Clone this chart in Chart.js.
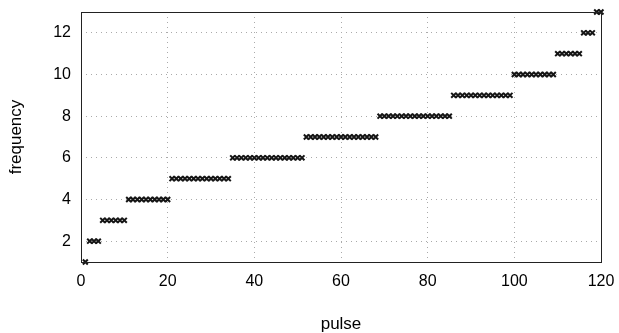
<!DOCTYPE html>
<html>
<head>
<meta charset="utf-8">
<script src="https://cdn.jsdelivr.net/npm/chart.js@4/dist/chart.umd.min.js"></script>
<style>
  html, body { margin: 0; padding: 0; background: #fff; }
  #wrap { width: 619px; height: 333px; }
</style>
</head>
<body>
<div id="wrap"><canvas id="pulseChart"></canvas></div>
<script>
const pulses = [
    1, 2, 3, 4, 5, 6, 7, 8, 9, 10,
    11, 12, 13, 14, 15, 16, 17, 18, 19, 20,
    21, 22, 23, 24, 25, 26, 27, 28, 29, 30,
    31, 32, 33, 34, 35, 36, 37, 38, 39, 40,
    41, 42, 43, 44, 45, 46, 47, 48, 49, 50,
    51, 52, 53, 54, 55, 56, 57, 58, 59, 60,
    61, 62, 63, 64, 65, 66, 67, 68, 69, 70,
    71, 72, 73, 74, 75, 76, 77, 78, 79, 80,
    81, 82, 83, 84, 85, 86, 87, 88, 89, 90,
    91, 92, 93, 94, 95, 96, 97, 98, 99, 100,
    101, 102, 103, 104, 105, 106, 107, 108, 109, 110,
    111, 112, 113, 114, 115, 116, 117, 118, 119, 120
];
const frequency = [
    1, 2, 2, 2, 3, 3, 3, 3, 3, 3,
    4, 4, 4, 4, 4, 4, 4, 4, 4, 4,
    5, 5, 5, 5, 5, 5, 5, 5, 5, 5,
    5, 5, 5, 5, 6, 6, 6, 6, 6, 6,
    6, 6, 6, 6, 6, 6, 6, 6, 6, 6,
    6, 7, 7, 7, 7, 7, 7, 7, 7, 7,
    7, 7, 7, 7, 7, 7, 7, 7, 8, 8,
    8, 8, 8, 8, 8, 8, 8, 8, 8, 8,
    8, 8, 8, 8, 8, 9, 9, 9, 9, 9,
    9, 9, 9, 9, 9, 9, 9, 9, 9, 10,
    10, 10, 10, 10, 10, 10, 10, 10, 10, 11,
    11, 11, 11, 11, 11, 12, 12, 12, 13, 13
];
const xTicks = [0, 20, 40, 60, 80, 100, 120];
const yTicks = [2, 4, 6, 8, 10, 12];

const points = pulses.map((p, i) => ({ x: p, y: frequency[i] }));

// box round the plot area
const frame = {
    id: 'frame',
    afterDatasetsDraw(chart) {
        const a = chart.chartArea;
        const ctx = chart.ctx;
        ctx.save();
        ctx.strokeStyle = '#222';
        ctx.lineWidth = 1;
        ctx.strokeRect(a.left + 0.5, a.top + 0.5, a.right - a.left, a.bottom - a.top);
        ctx.restore();
    }
};

// keep the tick labels from pushing the plot area around
function noOverflow(scale) {
    scale.paddingTop = 0;
    scale.paddingBottom = 0;
    scale.paddingLeft = 0;
    scale.paddingRight = 0;
}

const font = { family: "'Liberation Sans', Arial, sans-serif", size: 16 };
const titleFont = { family: font.family, size: 17, lineHeight: 1 };

new Chart(document.getElementById('pulseChart'), {
    type: 'scatter',
    data: {
        datasets: [{
            data: points,
            pointStyle: 'crossRot',
            pointRadius: 3.5,
            pointBorderWidth: 2,
            borderColor: '#151515',
            backgroundColor: '#151515',
            showLine: false,
            clip: 6
        }]
    },
    plugins: [frame],
    options: {
        responsive: true,
        maintainAspectRatio: false,
        animation: false,
        layout: { padding: { top: 12, right: 18, left: 0, bottom: 0 } },
        plugins: {
            legend: { display: false },
            tooltip: { enabled: false }
        },
        scales: {
            x: {
                type: 'linear',
                min: 0,
                max: 120,
                afterBuildTicks: scale => { scale.ticks = xTicks.map(v => ({ value: v })); },
                afterFit: scale => { scale.height = 71; noOverflow(scale); },
                grid: { color: '#aaa', drawTicks: false },
                border: { display: false, dash: [1, 4] },
                ticks: { color: '#000', font: font, padding: 10, maxRotation: 0 },
                title: {
                    display: true,
                    text: 'pulse',
                    color: '#000',
                    font: titleFont,
                    padding: { top: 0, bottom: 0 }
                }
            },
            y: {
                type: 'linear',
                min: 1,
                max: 13,
                afterBuildTicks: scale => { scale.ticks = yTicks.map(v => ({ value: v })); },
                afterFit: scale => { scale.width = 81; noOverflow(scale); },
                grid: { color: '#aaa', drawTicks: false },
                border: { display: false, dash: [1, 4] },
                ticks: { color: '#000', font: font, padding: 10 },
                title: {
                    display: true,
                    text: 'frequency',
                    color: '#000',
                    font: titleFont,
                    padding: { top: 8, bottom: 0 }
                }
            }
        }
    }
});
</script>
</body>
</html>
